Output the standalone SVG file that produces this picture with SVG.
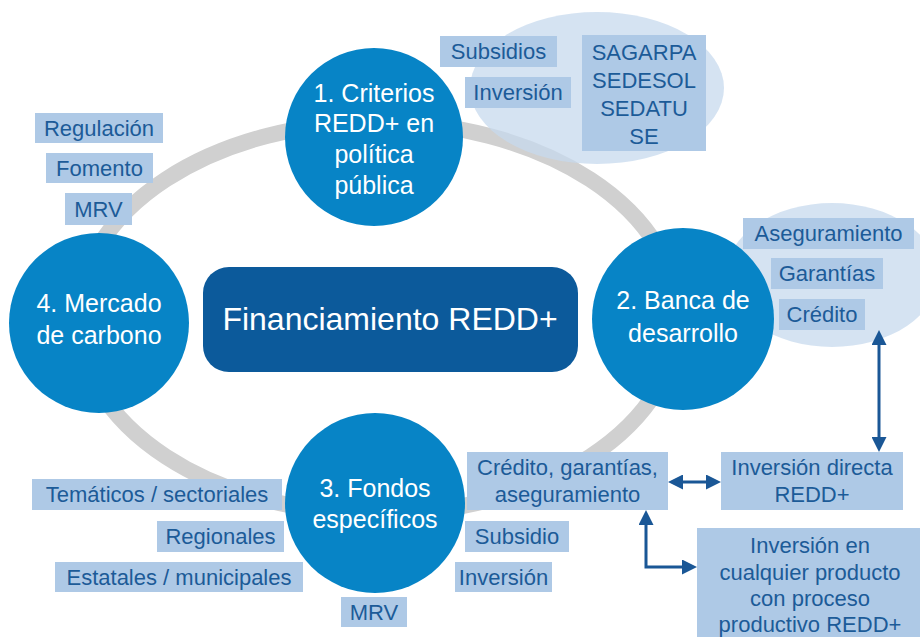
<svg xmlns="http://www.w3.org/2000/svg" width="920" height="637" viewBox="0 0 920 637">
<style>
  text { font-family: "Liberation Sans", Arial, sans-serif; }
  .circ { fill: #0784c6; }
  .ct { fill: #ffffff; font-size: 25px; text-anchor: middle; }
  .box { fill: #aec9e6; }
  .bt { fill: #1c5b98; font-size: 22px; text-anchor: middle; }
  .cloud { fill: #c7d9ee; opacity: 0.75; }
  .arr { fill: none; stroke: #1a5796; stroke-width: 3; marker-start: url(#ah); marker-end: url(#ah); }
</style>
<defs>
  <marker id="ah" viewBox="0 0 10 10" refX="6" refY="5" markerWidth="15" markerHeight="15" markerUnits="userSpaceOnUse" orient="auto-start-reverse">
    <path d="M0,0 L10,5 L0,10 z" fill="#1a5796"/>
  </marker>
</defs>
<rect width="920" height="637" fill="#ffffff"/>

<g id="ring">
  <ellipse cx="378" cy="318" rx="300" ry="196" fill="none" stroke="#d0d0d0" stroke-width="16"/>
</g>

<g id="clouds">
  <ellipse class="cloud" cx="597" cy="88" rx="127" ry="76"/>
  <ellipse class="cloud" cx="832" cy="275" rx="106" ry="72"/>
</g>

<g id="center">
  <rect x="203" y="267" width="375" height="105" rx="26" fill="#0c5a9b"/>
  <text x="390" y="330" fill="#ffffff" font-size="32" text-anchor="middle">Financiamiento REDD+</text>
</g>

<g id="node1">
  <circle class="circ" cx="374" cy="137" r="89"/>
  <text class="ct" x="374" y="102">1. Criterios</text>
  <text class="ct" x="374" y="132">REDD+ en</text>
  <text class="ct" x="374" y="163">política</text>
  <text class="ct" x="374" y="194">pública</text>
</g>

<g id="node2">
  <circle class="circ" cx="683" cy="319" r="91"/>
  <text class="ct" x="683" y="309">2. Banca de</text>
  <text class="ct" x="683" y="342">desarrollo</text>
</g>

<g id="node3">
  <circle class="circ" cx="375" cy="503" r="90"/>
  <text class="ct" x="375" y="497">3. Fondos</text>
  <text class="ct" x="375" y="528">específicos</text>
</g>

<g id="node4">
  <circle class="circ" cx="99" cy="323" r="90"/>
  <text class="ct" x="99" y="312">4. Mercado</text>
  <text class="ct" x="99" y="344">de carbono</text>
</g>

<g id="b-subsidios"><rect class="box" x="440" y="36" width="117" height="31"/><text class="bt" x="498.5" y="59">Subsidios</text></g>
<g id="b-inversion1"><rect class="box" x="465" y="77" width="106" height="31"/><text class="bt" x="518" y="100">Inversión</text></g>
<g id="b-secretarias"><rect class="box" x="582" y="35" width="124" height="116"/>
  <text class="bt" x="644" y="60">SAGARPA</text>
  <text class="bt" x="644" y="88">SEDESOL</text>
  <text class="bt" x="644" y="116">SEDATU</text>
  <text class="bt" x="644" y="144">SE</text>
</g>

<g id="b-regulacion"><rect class="box" x="35" y="113" width="128" height="30"/><text class="bt" x="99" y="136">Regulación</text></g>
<g id="b-fomento"><rect class="box" x="46" y="153" width="107" height="30"/><text class="bt" x="99.5" y="176">Fomento</text></g>
<g id="b-mrv1"><rect class="box" x="65" y="193" width="67" height="32"/><text class="bt" x="98.5" y="217">MRV</text></g>

<g id="b-aseguramiento"><rect class="box" x="743" y="218" width="171" height="31"/><text class="bt" x="828.5" y="241">Aseguramiento</text></g>
<g id="b-garantias"><rect class="box" x="771" y="258" width="112" height="31"/><text class="bt" x="827" y="281">Garantías</text></g>
<g id="b-credito"><rect class="box" x="779" y="299" width="86" height="31"/><text class="bt" x="822" y="322">Crédito</text></g>

<g id="b-cga"><rect class="box" x="467" y="452" width="201" height="58"/>
  <text class="bt" x="567.5" y="475">Crédito, garantías,</text>
  <text class="bt" x="567.5" y="502">aseguramiento</text>
</g>
<g id="b-directa"><rect class="box" x="721" y="452" width="182" height="58"/>
  <text class="bt" x="812" y="475">Inversión directa</text>
  <text class="bt" x="812" y="502">REDD+</text>
</g>
<g id="b-subsidio"><rect class="box" x="465" y="521" width="104" height="31"/><text class="bt" x="517" y="544">Subsidio</text></g>
<g id="b-inversion2"><rect class="box" x="455" y="562" width="97" height="30"/><text class="bt" x="503.5" y="585">Inversión</text></g>
<g id="b-producto"><rect class="box" x="697" y="528" width="223" height="110"/>
  <text class="bt" x="810" y="553">Inversión en</text>
  <text class="bt" x="810" y="580">cualquier producto</text>
  <text class="bt" x="810" y="606">con proceso</text>
  <text class="bt" x="810" y="632">productivo REDD+</text>
</g>

<g id="b-tematicos"><rect class="box" x="32" y="479" width="250" height="31"/><text class="bt" x="157" y="502">Temáticos / sectoriales</text></g>
<g id="b-regionales"><rect class="box" x="157" y="521" width="127" height="31"/><text class="bt" x="220.5" y="544">Regionales</text></g>
<g id="b-estatales"><rect class="box" x="55" y="562" width="248" height="30"/><text class="bt" x="179" y="585">Estatales / municipales</text></g>
<g id="b-mrv2"><rect class="box" x="341" y="597" width="66" height="30"/><text class="bt" x="374" y="620">MRV</text></g>

<g id="connectors">
  <path class="arr" d="M879,336 V446"/>
  <path class="arr" d="M674,482 H715"/>
  <path class="arr" d="M646,516 V567 H691"/>
</g>
</svg>
